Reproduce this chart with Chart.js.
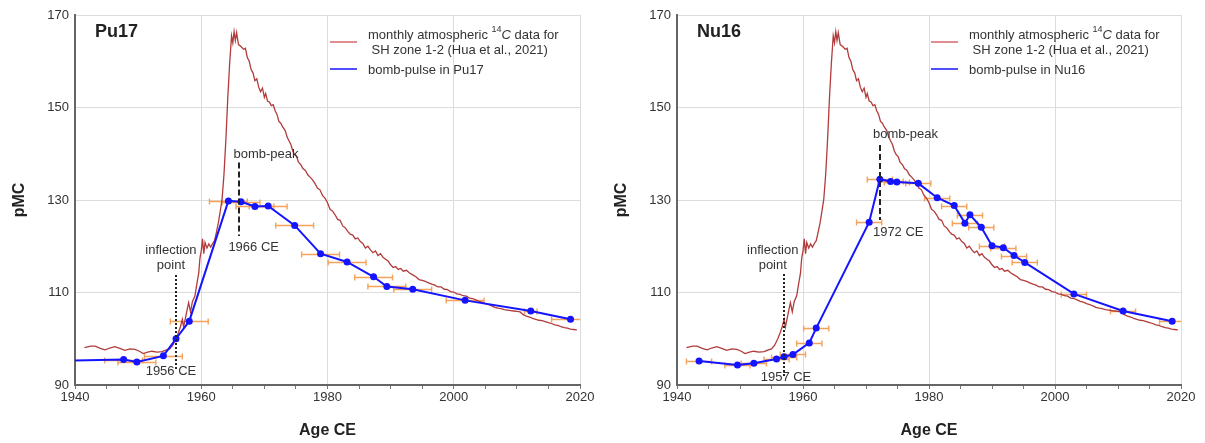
<!DOCTYPE html>
<html>
<head>
<meta charset="utf-8">
<script src="https://cdn.jsdelivr.net/npm/chart.js@4"></script>
<style>
body { margin: 0; background: #fff; }
#wrap { position: relative; width: 1205px; height: 443px; }
canvas { position: absolute; top: 0; }
</style>
</head>
<body>
<div id="wrap">
  <canvas id="pu" width="602" height="443" style="left:0"></canvas>
  <canvas id="nu" width="603" height="443" style="left:602px"></canvas>
</div>
<script>
// monthly atmospheric 14C, SH zone 1-2
const atmYears = [1941.5, 1942.5, 1943.2, 1944.0, 1944.8, 1945.5, 1946.3, 1947.1, 1947.9, 1948.7, 1949.5, 1950.2, 1950.8, 1951.5, 1952.2, 1953.0, 1953.8, 1954.5, 1955.0, 1955.5,
  1956.0, 1956.4, 1956.7, 1957.0, 1957.2, 1957.5, 1957.8, 1958.0, 1958.3, 1958.6, 1959.0, 1959.3, 1959.6, 1959.8, 1960.0, 1960.2, 1960.4, 1960.6, 1960.9, 1961.2,
  1961.5, 1961.8, 1962.1, 1962.4, 1962.7, 1963.0, 1963.3, 1963.6, 1963.9, 1964.2, 1964.5, 1964.8, 1965.0, 1965.2, 1965.4, 1965.6, 1965.9, 1966.3, 1966.7, 1967.0,
  1967.3, 1967.6, 1967.9, 1968.2, 1968.5, 1968.8, 1969.1, 1969.4, 1969.7, 1970.0, 1970.2, 1970.5, 1970.8, 1971.1, 1971.4, 1971.7, 1972.0, 1972.3, 1972.6, 1972.9,
  1973.3, 1973.6, 1973.9, 1974.2, 1974.5, 1974.8, 1975.1, 1975.4, 1975.8, 1976.1, 1976.5, 1976.9, 1977.2, 1977.6, 1978.0, 1978.4, 1978.8, 1979.2, 1979.6, 1980.0,
  1980.4, 1980.8, 1981.2, 1981.6, 1982.0, 1982.4, 1982.8, 1983.2, 1983.6, 1984.0, 1984.4, 1984.8, 1985.2, 1985.6, 1986.0, 1986.4, 1986.8, 1987.2, 1987.6, 1988.0,
  1988.4, 1988.8, 1989.2, 1989.6, 1990.0, 1990.4, 1990.8, 1991.2, 1991.6, 1992.0, 1992.5, 1993.0, 1993.5, 1994.0, 1994.5, 1995.0, 1995.5, 1996.0, 1996.5, 1997.0,
  1997.5, 1998.0, 1998.5, 1999.0, 1999.5, 2000.0, 2000.5, 2001.0, 2001.5, 2002.0, 2002.5, 2003.0, 2003.5, 2004.0, 2004.5, 2005.0, 2005.5, 2006.0, 2006.5, 2007.0,
  2007.5, 2008.0, 2008.5, 2009.0, 2009.5, 2010.0, 2010.5, 2011.0, 2011.5, 2012.0, 2012.5, 2013.0, 2013.5, 2014.0, 2014.5, 2015.0, 2015.5, 2016.0, 2016.5, 2017.0,
  2017.5, 2018.0, 2018.5, 2019.0, 2019.5];
const atmPMC = [98.1, 98.4, 98.4, 97.9, 97.6, 98.0, 98.3, 97.9, 97.5, 97.8, 97.7, 97.3, 96.8, 97.1, 97.3, 97.1, 97.2, 97.6, 97.8, 98.6,
  100.0, 101.4, 102.6, 104.2, 102.5, 104.5, 106.5, 107.8, 105.8, 108.0, 109.3, 111.8, 114.2, 117.5, 119.0, 121.6, 118.4, 120.8, 119.6, 120.5,
  119.8, 120.6, 121.2, 123.0, 125.0, 127.5, 130.2, 135.5, 143.0, 152.0, 159.5, 165.5, 164.0, 166.4, 164.5, 166.2, 163.6, 163.2, 162.6, 162.8,
  160.8, 160.0, 158.2, 157.5, 155.8, 156.2, 154.4, 153.4, 154.2, 152.2, 153.0, 151.4, 151.2, 150.4, 150.6, 149.3, 148.5, 147.0, 146.6, 145.8,
  145.0, 143.6, 142.8, 142.0, 140.6, 139.8, 139.4, 138.2, 137.6, 136.8, 136.4, 135.4, 135.0, 134.4, 133.6, 132.6, 132.2, 131.0, 130.4, 129.4,
  128.0, 127.6, 126.8, 125.8, 125.6, 124.4, 124.0, 123.2, 122.6, 122.4, 121.6, 121.8, 121.0, 120.6, 119.6, 120.0, 119.2, 118.6, 119.0, 118.0,
  118.4, 117.6, 117.2, 116.8, 116.0, 115.4, 115.6, 115.0, 115.2, 114.6, 114.8, 114.2, 113.8, 113.4, 112.8, 112.6, 112.4, 112.1, 111.8, 111.6,
  111.2, 111.2, 110.7, 110.6, 110.2, 110.1, 109.7, 109.6, 109.3, 109.2, 108.8, 108.7, 108.4, 108.1, 107.9, 107.6, 107.4, 107.1, 106.8, 106.6,
  106.5, 106.3, 106.2, 106.1, 106.0, 105.9, 105.8, 105.2, 104.9, 104.7, 104.4, 104.2, 104.0, 103.9, 103.7, 103.5, 103.3, 103.0, 102.9, 102.6,
  102.4, 102.3, 102.1, 102.0, 101.9];

// bomb-pulse in Pu17
const puYears = [1940, 1947.7, 1949.8, 1954.0, 1956.0, 1958.1, 1964.3, 1966.3, 1968.5, 1970.6, 1974.8, 1978.9, 1983.1, 1987.3, 1989.4, 1993.5, 2001.8, 2012.2, 2018.5];
const puPMC = [95.3, 95.5, 95.0, 96.3, 100.0, 103.8, 129.8, 129.6, 128.6, 128.7, 124.5, 118.4, 116.6, 113.4, 111.3, 110.7, 108.3, 106.0, 104.2];
const puErr = [0, 3, 3, 3, 0, 3, 3, 3, 3, 3, 3, 3, 3, 3, 3, 3, 3, 1, 3];

// bomb-pulse in Nu16
const nuYears = [1943.5, 1949.6, 1952.2, 1955.8, 1957.0, 1958.4, 1961.0, 1962.1, 1970.5, 1972.2, 1973.9, 1974.9, 1978.3, 1981.3, 1984.0, 1985.7, 1986.5, 1988.3, 1990.0, 1991.8, 1993.5, 1995.2, 2003.0, 2010.8, 2018.6];
const nuPMC = [95.2, 94.3, 94.7, 95.6, 96.1, 96.6, 99.1, 102.3, 125.2, 134.5, 134.0, 133.9, 133.6, 130.5, 128.8, 125.0, 126.8, 124.1, 120.1, 119.7, 118.0, 116.5, 109.7, 106.0, 103.8];
const nuErr = [2, 2, 2, 2, 2, 2, 2, 2, 2, 2, 2, 2, 2, 2, 2, 2, 2, 2, 2, 2, 2, 2, 2, 2, 2];

const xMin = 1940, xMax = 2020, xMajor = 20, xMinor = 5;
const yMin = 90, yMax = 170, yStep = 20;

const FONT = '"Liberation Sans", Arial, Helvetica, sans-serif';
const RED = '#b23b3b';
const BLUE = '#1414ff';
const ORANGE = '#f5a25a';

function pts(xs, ys) {
  return xs.map((x, i) => ({ x: x, y: ys[i] }));
}

const errorBars = {
  id: 'errorBars',
  beforeDatasetsDraw(chart, args, opts) {
    const { ctx, chartArea, scales: { x, y } } = chart;
    ctx.save();
    ctx.beginPath();
    ctx.rect(chartArea.left, chartArea.top, chartArea.right - chartArea.left, chartArea.bottom - chartArea.top);
    ctx.clip();
    ctx.strokeStyle = ORANGE;
    ctx.lineWidth = 1.4;
    opts.years.forEach((yr, i) => {
      const e = opts.err[i];
      if (!e) return;
      const x0 = x.getPixelForValue(yr - e);
      const x1 = x.getPixelForValue(yr + e);
      const py = Math.round(y.getPixelForValue(opts.values[i])) + 0.5;
      ctx.beginPath();
      ctx.moveTo(x0, py); ctx.lineTo(x1, py);
      ctx.moveTo(x0, py - 3); ctx.lineTo(x0, py + 3);
      ctx.moveTo(x1, py - 3); ctx.lineTo(x1, py + 3);
      ctx.stroke();
    });
    ctx.restore();
  }
};

const notes = {
  id: 'notes',
  afterDatasetsDraw(chart, args, opts) {
    const { ctx, chartArea, scales: { x, y } } = chart;
    ctx.save();
    // vertical marker lines
    opts.lines.forEach(l => {
      ctx.beginPath();
      ctx.setLineDash(l.dash);
      ctx.lineWidth = 2;
      ctx.strokeStyle = '#222';
      const px = Math.round(x.getPixelForValue(l.x));
      ctx.moveTo(px, y.getPixelForValue(l.from));
      ctx.lineTo(px, y.getPixelForValue(l.to));
      ctx.stroke();
    });
    ctx.setLineDash([]);
    ctx.font = '13px ' + FONT;
    ctx.fillStyle = '#333';
    ctx.textBaseline = 'middle';
    opts.texts.forEach(t => {
      ctx.textAlign = t.align;
      ctx.fillText(t.text, x.getPixelForValue(t.x), y.getPixelForValue(t.y));
    });
    // panel name
    ctx.font = 'bold 18px ' + FONT;
    ctx.fillStyle = '#222';
    ctx.textAlign = 'left';
    ctx.fillText(opts.name, chartArea.left + 20, chartArea.top + 17);

    // legend
    const lx = chartArea.right - 250;
    const ly = chartArea.top + 27;
    ctx.lineWidth = 1.5;
    ctx.strokeStyle = '#d46a6a';
    ctx.beginPath(); ctx.moveTo(lx, ly); ctx.lineTo(lx + 27, ly); ctx.stroke();
    ctx.strokeStyle = BLUE;
    ctx.beginPath(); ctx.moveTo(lx, ly + 27); ctx.lineTo(lx + 27, ly + 27); ctx.stroke();
    ctx.fillStyle = '#333';
    let tx = lx + 38;
    const t1 = ly - 7;
    ctx.font = '13px ' + FONT;
    ctx.fillText('monthly atmospheric ', tx, t1);
    tx += ctx.measureText('monthly atmospheric ').width;
    ctx.font = '9px ' + FONT;
    ctx.fillText('14', tx, t1 - 5);
    tx += ctx.measureText('14').width;
    ctx.font = 'italic 13px ' + FONT;
    ctx.fillText('C', tx, t1);
    tx += ctx.measureText('C').width;
    ctx.font = '13px ' + FONT;
    ctx.fillText(' data for', tx, t1);
    ctx.fillText(' SH zone 1-2 (Hua et al., 2021)', lx + 38, t1 + 15);
    ctx.fillText(opts.legendBlue, lx + 38, ly + 28);
    ctx.restore();
  }
};

function makeChart(id, name, years, values, err, radii, lines, texts, padRight) {
  const ctx = document.getElementById(id).getContext('2d');
  return new Chart(ctx, {
    type: 'line',
    data: {
      datasets: [{
        label: 'monthly atmospheric 14C data for SH zone 1-2 (Hua et al., 2021)',
        data: pts(atmYears, atmPMC),
        borderColor: RED,
        borderWidth: 1.3,
        pointRadius: 0,
        order: 2
      }, {
        label: 'bomb-pulse in ' + name,
        data: pts(years, values),
        borderColor: BLUE,
        backgroundColor: BLUE,
        borderWidth: 2,
        pointRadius: radii,
        pointBorderWidth: 0,
        order: 1
      }]
    },
    options: {
      responsive: false,
      devicePixelRatio: 1,
      animation: false,
      layout: { padding: { top: 15, right: padRight, left: 0, bottom: 0 } },
      plugins: {
        legend: { display: false },
        tooltip: { enabled: false },
        errorBars: { years: years, values: values, err: err },
        notes: { name: name, lines: lines, texts: texts, legendBlue: 'bomb-pulse in ' + name }
      },
      scales: {
        x: {
          type: 'linear',
          min: xMin,
          max: xMax,
          afterFit: s => { s.height = 58; },
          afterBuildTicks: s => {
            s.ticks = [];
            for (let v = xMin; v <= xMax; v += xMinor) s.ticks.push({ value: v });
          },
          ticks: {
            autoSkip: false,
            maxRotation: 0,
            padding: 1,
            color: '#333',
            font: { family: FONT, size: 13 },
            callback: v => (v % xMajor === 0 ? String(v) : '')
          },
          grid: {
            color: c => (c.tick && c.tick.value % xMajor === 0 ? '#dcdcdc' : 'rgba(0,0,0,0)'),
            tickColor: '#777',
            tickLength: 4,
            lineWidth: 1
          },
          border: { color: '#666', width: 2 },
          title: {
            display: true,
            text: 'Age CE',
            color: '#222',
            font: { family: FONT, size: 16, weight: 'bold' },
            padding: { top: 0, bottom: 3 }
          }
        },
        y: {
          min: yMin,
          max: yMax,
          afterFit: s => { s.width = 75; },
          ticks: {
            stepSize: yStep,
            padding: 6,
            color: '#333',
            font: { family: FONT, size: 13 }
          },
          grid: { color: '#dcdcdc', drawTicks: false, lineWidth: 1 },
          border: { color: '#666', width: 2 },
          title: {
            display: true,
            text: 'pMC',
            color: '#222',
            font: { family: FONT, size: 16, weight: 'bold' },
            padding: { top: 10, bottom: 10 }
          }
        }
      }
    },
    plugins: [errorBars, notes]
  });
}

makeChart('pu', 'Pu17', puYears, puPMC, puErr, puYears.map(v => (v === xMin ? 0 : 3.5)),
  [
    { x: 1966.0, from: 138.1, to: 122.2, dash: [6, 3] },
    { x: 1956.0, from: 113.8, to: 93.2, dash: [2, 2] }
  ],
  [
    { text: 'bomb-peak', x: 1965.1, y: 139.9, align: 'left' },
    { text: '1966 CE', x: 1964.3, y: 119.8, align: 'left' },
    { text: 'inflection', x: 1955.2, y: 119.2, align: 'center' },
    { text: 'point', x: 1955.2, y: 115.9, align: 'center' },
    { text: '1956 CE', x: 1955.2, y: 93.0, align: 'center' }
  ], 22);

makeChart('nu', 'Nu16', nuYears, nuPMC, nuErr, nuYears.map(() => 3.5),
  [
    { x: 1972.2, from: 141.9, to: 125.7, dash: [6, 3] },
    { x: 1957.0, from: 114.0, to: 91.7, dash: [2, 2] }
  ],
  [
    { text: 'bomb-peak', x: 1971.1, y: 144.1, align: 'left' },
    { text: '1972 CE', x: 1971.1, y: 122.9, align: 'left' },
    { text: 'inflection', x: 1955.2, y: 119.2, align: 'center' },
    { text: 'point', x: 1955.2, y: 115.8, align: 'center' },
    { text: '1957 CE', x: 1957.3, y: 91.7, align: 'center' }
  ], 24);
</script>
</body>
</html>
